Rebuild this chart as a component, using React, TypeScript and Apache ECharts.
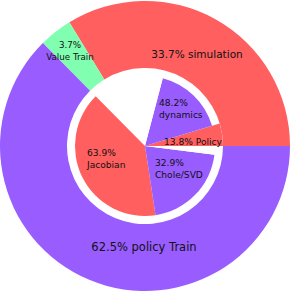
import React, { useEffect, useRef } from "react";
import * as echarts from "echarts";

// Outer ring (share of total, %), counter-clockwise from 3 o'clock
const outerNames = ["simulation", "Value Train", "policy Train"];
const outerPct = [33.7, 3.7, 62.5];

// Breakdown of "simulation" (% of simulation), ccw
const simNames = ["Policy", "dynamics"];
const simPct = [13.8, 48.2];

// Breakdown of "policy Train" (% of policy Train), ccw
const trainNames = ["Jacobian", "Chole/SVD"];
const trainPct = [63.9, 32.9];

const RED = "#ff5f5f";
const PURPLE = "#995cff";
const GREEN = "#80ffb0";
const WHITE = "#ffffff";

const outerColors = [RED, GREEN, PURPLE];
const simColors = [RED, PURPLE];
const trainColors = [RED, PURPLE];

export default function App() {
  const ref = useRef<HTMLDivElement>(null);
  useEffect(() => {
    if (!ref.current) return;
    const chart = echarts.init(ref.current, undefined, { renderer: "svg" });
    const sim = outerPct[0];
    const val = outerPct[1];
    const train = outerPct[2];
    const simSum = simPct.reduce((a, b) => a + b, 0);
    const trainSum = trainPct.reduce((a, b) => a + b, 0);

    const innerData: any[] = [];
    simNames.forEach((n, i) =>
      innerData.push({ name: n, value: (sim * simPct[i]) / 100, itemStyle: { color: simColors[i] } })
    );
    innerData.push({ name: "sim-rest", value: (sim * (100 - simSum)) / 100, itemStyle: { color: WHITE } });
    innerData.push({ name: "val-rest", value: val, itemStyle: { color: WHITE } });
    trainNames.forEach((n, i) =>
      innerData.push({ name: n, value: (train * trainPct[i]) / 100, itemStyle: { color: trainColors[i] } })
    );
    innerData.push({ name: "train-rest", value: (train * (100 - trainSum)) / 100, itemStyle: { color: WHITE } });

    // Policy wedge drawn with a larger radius
    const policyData = innerData.map((d, i) => ({
      name: d.name + "-big",
      value: d.value,
      itemStyle: { color: i === 0 ? RED : "rgba(0,0,0,0)" },
    }));

    const base = {
      type: "pie",
      center: [145, 146],
      startAngle: 0,
      clockwise: false,
      silent: true,
      label: { show: false },
      labelLine: { show: false },
      emphasis: { disabled: true },
      avoidLabelOverlap: false,
      minAngle: 0,
    };

    const font = "DejaVu Sans";
    const txt = (text: string, x: number, y: number, size: number, align: string, lh: number) => ({
      type: "text",
      x,
      y,
      z: 100,
      style: {
        text,
        fill: "#111111",
        font: `${size}px "${font}"`,
        textAlign: align,
        textVerticalAlign: "middle",
        lineHeight: lh,
      },
    });

    chart.setOption({
      animation: false,
      backgroundColor: "#ffffff",
      series: [
        {
          ...base,
          radius: [78, 145],
          data: outerNames.map((n, i) => ({ name: n, value: outerPct[i], itemStyle: { color: outerColors[i] } })),
        },
        { ...base, radius: [0, 78], data: policyData },
        { ...base, radius: [0, 70], data: innerData.map((d, i) => (i === 0 ? { ...d, itemStyle: { color: "rgba(0,0,0,0)" } } : d)) },
      ],
      graphic: [
        txt(`${outerPct[0]}% ${outerNames[0]}`, 197, 54, 10.5, "center", 13),
        txt(`${outerPct[2]}% ${outerNames[2]}`, 144, 247, 11.5, "center", 14),
        txt(`${outerPct[1]}%\n${outerNames[1]}`, 70, 51, 8.7, "center", 11.5),
        txt(`${simPct[1]}%\n${simNames[1]}`, 159, 109, 9.1, "left", 12),
        txt(`${simPct[0]}% ${simNames[0]}`, 164, 142, 9.1, "left", 12),
        txt(`${trainPct[0]}%\n${trainNames[0]}`, 87, 158.5, 9.1, "left", 12),
        txt(`${trainPct[1]}%\n${trainNames[1]}`, 155, 169, 9.1, "left", 12),
      ],
    } as any);
    return () => chart.dispose();
  }, []);
  return <div ref={ref} style={{ position: "fixed", left: 0, top: 0, width: 291, height: 292 }} />;
}
